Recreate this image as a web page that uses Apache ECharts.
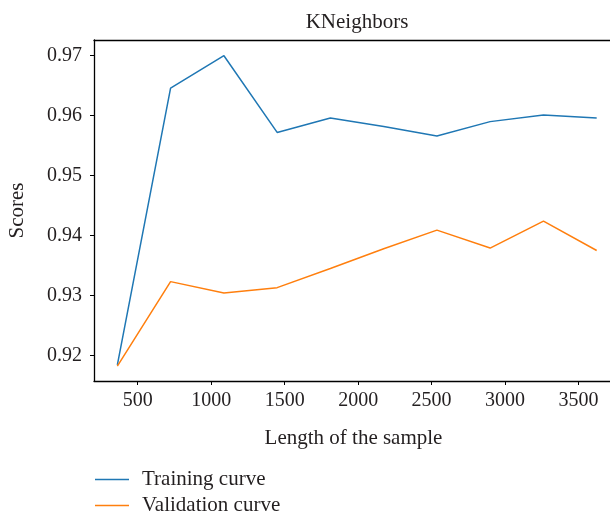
<!DOCTYPE html>
<html>
<head>
<meta charset="utf-8">
<script src="https://cdn.jsdelivr.net/npm/echarts@6/dist/echarts.min.js"></script>
<style>
  html, body { margin: 0; padding: 0; background: #fff; }
  #chart { width: 610px; height: 518px; }
</style>
</head>
<body>
<div id="chart"></div>
<script>
  // sample sizes used for the learning curve
  var sampleSizes = [362, 724, 1087, 1449, 1811, 2174, 2536, 2898, 3261, 3623];
  var trainScores = [0.9184, 0.9646, 0.9700, 0.9572, 0.9596, 0.9582, 0.9566, 0.9590, 0.9601, 0.9596];
  var validScores = [0.9182, 0.9323, 0.9304, 0.9313, 0.9345, 0.9378, 0.9409, 0.9379, 0.9424, 0.9375];
  var xTicks = [500, 1000, 1500, 2000, 2500, 3000, 3500];
  var yTicks = [0.92, 0.93, 0.94, 0.95, 0.96, 0.97];

  var font = 'Liberation Serif';
  var textColor = '#231f20';
  var xMin = 203, xMax = 3734;

  function pairs(xs, ys) {
    return xs.map(function (x, i) { return [x, ys[i]]; });
  }

  var myChart = echarts.init(document.getElementById('chart'));
  var option = {
    animation: false,
    title: {
      text: 'KNeighbors',
      left: 352,
      textAlign: 'center',
      top: 7,
      textStyle: { fontFamily: font, fontSize: 21, fontWeight: 'normal', color: textColor }
    },
    grid: {
      left: 94,
      top: 40,
      right: -3,
      bottom: 137,
      outerBoundsMode: 'none',
      containLabel: false
    },
    legend: {
      orient: 'vertical',
      left: 95,
      top: 469,
      padding: 0,
      icon: 'rect',
      itemWidth: 34,
      itemHeight: 1.5,
      itemGap: 5,
      textStyle: { fontFamily: font, fontSize: 21, color: textColor, lineHeight: 21, padding: [0, 0, 0, 8] },
      data: ['Training curve', 'Validation curve']
    },
    xAxis: [
      {
        type: 'value',
        min: xMin,
        max: xMax,
        name: 'Length of the sample',
        nameLocation: 'middle',
        nameGap: 47,
        nameTextStyle: { fontFamily: font, fontSize: 21, color: textColor },
        axisLine: { show: true, lineStyle: { color: '#000', width: 1.3 } },
        axisTick: { show: true, length: 4, customValues: xTicks, lineStyle: { color: '#000' } },
        axisLabel: {
          customValues: xTicks,
          margin: 10,
          fontFamily: font,
          fontSize: 20,
          color: textColor,
          formatter: function (v) { return String(v); }
        },
        splitLine: { show: false }
      },
      {
        // top frame line only
        type: 'value',
        position: 'top',
        min: xMin,
        max: xMax,
        axisLine: { show: true, lineStyle: { color: '#000', width: 1.3 } },
        axisTick: { show: false },
        axisLabel: { show: false },
        splitLine: { show: false }
      }
    ],
    yAxis: {
      type: 'value',
      min: 0.91572,
      max: 0.97262,
      name: 'Scores',
      nameLocation: 'middle',
      nameGap: 66,
      nameTextStyle: { fontFamily: font, fontSize: 21, color: textColor },
      axisLine: { show: true, lineStyle: { color: '#000', width: 1.3 } },
      axisTick: { show: true, length: 4, customValues: yTicks, lineStyle: { color: '#000' } },
      axisLabel: {
        customValues: yTicks,
        margin: 12,
        fontFamily: font,
        fontSize: 20,
        color: textColor,
        formatter: function (v) { return v.toFixed(2); }
      },
      splitLine: { show: false }
    },
    series: [
      {
        name: 'Training curve',
        type: 'line',
        symbol: 'none',
        data: pairs(sampleSizes, trainScores),
        lineStyle: { color: '#1f77b4', width: 1.5 },
        itemStyle: { color: '#1f77b4' }
      },
      {
        name: 'Validation curve',
        type: 'line',
        symbol: 'none',
        data: pairs(sampleSizes, validScores),
        lineStyle: { color: '#ff7f0e', width: 1.5 },
        itemStyle: { color: '#ff7f0e' }
      }
    ]
  };
  myChart.setOption(option);
</script>
</body>
</html>
